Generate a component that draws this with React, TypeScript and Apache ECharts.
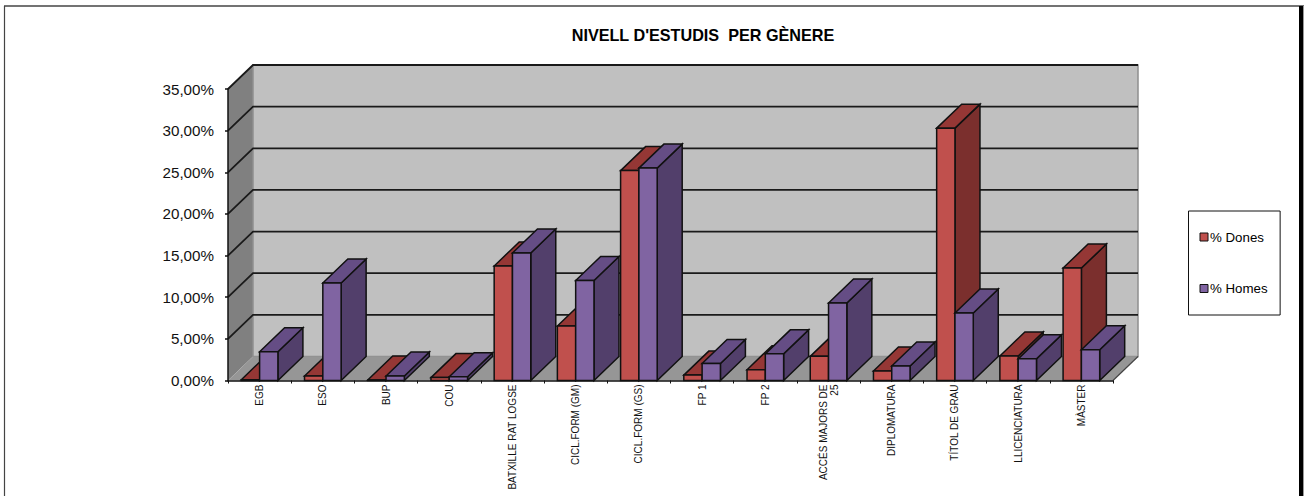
import React, { useEffect, useRef } from "react";
import * as echarts from "echarts";

const categories = ["EGB", "ESO", "BUP", "COU", "BATXILLE RAT LOGSE", "CICL.FORM (GM)", "CICL.FORM (GS)", "FP 1", "FP 2", "ACCÉS MAJORS DE\n25", "DIPLOMATURA", "TÍTOL DE GRAU", "LLICENCIATURA", "MÀSTER"];
const dones = [0.1, 0.55, 0.05, 0.35, 13.75, 6.55, 25.2, 0.65, 1.3, 2.9, 1.15, 30.3, 2.95, 13.5];
const homes = [3.45, 11.7, 0.55, 0.45, 15.3, 12.0, 25.5, 2.05, 3.2, 9.3, 1.75, 8.1, 2.6, 3.7];
const ticks = [0, 5, 10, 15, 20, 25, 30, 35];

const DX = 25;
const DY = 24;
const BAR = 18.3;
const LINE = "#111";

function barRenderer(front: string, top: string, side: string, offset: number) {
  return (_params: any, api: any) => {
    const [cx, y] = api.coord([api.value(0), api.value(1)]);
    const [, y0] = api.coord([api.value(0), 0]);
    const x0 = cx + offset;
    const x1 = x0 + BAR;
    const style = (fill: string) => ({ fill, stroke: "#111", lineWidth: 1.5 });
    return {
      type: "group",
      children: [
        { type: "polygon", shape: { points: [[x1, y], [x1 + DX, y - DY], [x1 + DX, y0 - DY], [x1, y0]] }, style: style(side) },
        { type: "polygon", shape: { points: [[x0, y], [x0 + DX, y - DY], [x1 + DX, y - DY], [x1, y]] }, style: style(top) },
        { type: "rect", shape: { x: x0, y, width: BAR, height: y0 - y }, style: style(front) },
      ],
    };
  };
}

function wallsRenderer(params: any, api: any) {
  const { x, y, width, height } = params.coordSys;
  const bottom = y + height;
  const right = x + width;
  const children: any[] = [
    { type: "polygon", shape: { points: [[x, y], [x + DX, y - DY], [x + DX, bottom - DY], [x, bottom]] }, style: { fill: "#808080" } },
    { type: "rect", shape: { x: x + DX, y: y - DY, width, height }, style: { fill: "#C0C0C0", stroke: "#8f8f8f", lineWidth: 1.5 } },
    { type: "polygon", shape: { points: [[x, bottom], [x + DX, bottom - DY], [right + DX, bottom - DY], [right, bottom]] }, style: { fill: "#969696" } },
    { type: "line", shape: { x1: right, y1: bottom, x2: right + DX, y2: bottom - DY }, style: { stroke: "#444", lineWidth: 1.2 } },
  ];
  ticks.forEach((t) => {
    const [, ty] = api.coord([0, t]);
    if (t > 0) {
      children.push({ type: "polyline", shape: { points: [[x, ty], [x + DX, ty - DY], [right + DX, ty - DY]] }, style: { fill: "none", stroke: "#1a1a1a", lineWidth: 1.8 } });
    }
  });
  return { type: "group", children };
}

export default function App() {
  const ref = useRef<HTMLDivElement>(null);
  useEffect(() => {
    document.body.style.margin = "0";
    const chart = echarts.init(ref.current!, undefined, { renderer: "svg" });
    chart.setOption({
      animation: false,
      backgroundColor: "#fff",
      textStyle: { fontFamily: "Liberation Sans" },
      title: {
        text: "NIVELL D'ESTUDIS  PER GÈNERE",
        left: 698,
        top: 22,
        textAlign: "center",
        textStyle: { fontSize: 16.2, fontWeight: "bold", color: "#000", fontFamily: "Liberation Sans" },
      },
      grid: { left: 228, top: 89, width: 885, height: 291.5 },
      legend: {
        orient: "vertical",
        left: 1188.5,
        top: 211,
        padding: [19.5, 12.5, 20, 11],
        itemGap: 38.5,
        itemWidth: 8,
        itemHeight: 8,
        icon: "rect",
        borderColor: "#111",
        borderWidth: 1,
        backgroundColor: "#fff",
        textStyle: { fontSize: 13.3, color: "#000", padding: [0, 0, 0, -3], fontFamily: "Liberation Sans" },
        data: [
          { name: "% Dones", itemStyle: { color: "#C0504D", borderColor: "#111", borderWidth: 1 } },
          { name: "% Homes", itemStyle: { color: "#8064A2", borderColor: "#111", borderWidth: 1 } },
        ],
      },
      xAxis: {
        type: "category",
        data: categories,
        axisLine: { lineStyle: { color: LINE, width: 1.5 } },
        axisTick: { show: true, length: 3, alignWithLabel: false, lineStyle: { color: LINE } },
        axisLabel: { rotate: 90, interval: 0, fontSize: 10, color: "#111", margin: 4, lineHeight: 11, padding: [3, 0, 0, 0], fontFamily: "Liberation Sans" },
        splitLine: { show: false },
      },
      yAxis: {
        type: "value",
        min: 0,
        max: 35,
        interval: 5,
        axisLine: { show: true, lineStyle: { color: LINE, width: 1.5 } },
        axisTick: { show: true, length: 3, lineStyle: { color: LINE, width: 1.5 } },
        axisLabel: { formatter: (v: number) => v.toFixed(2).replace(".", ",") + "%", fontSize: 15.2, color: "#111", margin: 14, fontFamily: "Liberation Sans" },
        splitLine: { show: false },
      },
      series: [
        { type: "custom", name: "walls", silent: true, z: 0, clip: false, renderItem: wallsRenderer, data: [[0, 0]], encode: { x: 0, y: 1 } },
        { type: "custom", name: "% Dones", z: 3, clip: false, itemStyle: { color: "#C0504D" }, renderItem: barRenderer("#C0504D", "#953735", "#7B2F2D", -18.3), data: dones.map((v, i) => [i, v]), encode: { x: 0, y: 1 } },
        { type: "custom", name: "% Homes", z: 4, clip: false, itemStyle: { color: "#8064A2" }, renderItem: barRenderer("#8064A2", "#654D85", "#523F6B", 0), data: homes.map((v, i) => [i, v]), encode: { x: 0, y: 1 } },
      ],
      graphic: [
        { type: "line", silent: true, shape: { x1: 4.5, y1: 6, x2: 4.5, y2: 496 }, style: { stroke: "#444", lineWidth: 1.2 } },
        { type: "line", silent: true, shape: { x1: 4, y1: 6, x2: 1304, y2: 6 }, style: { stroke: "#444", lineWidth: 1.5 } },
        { type: "line", silent: true, shape: { x1: 1301, y1: 6, x2: 1301, y2: 496 }, style: { stroke: "#000", lineWidth: 4 } },
        { type: "line", silent: true, shape: { x1: 1303.5, y1: 6, x2: 1303.5, y2: 496 }, style: { stroke: "#999", lineWidth: 1 } },
      ],
    });
    return () => chart.dispose();
  }, []);
  return <div ref={ref} style={{ width: 1304, height: 496 }} />;
}
